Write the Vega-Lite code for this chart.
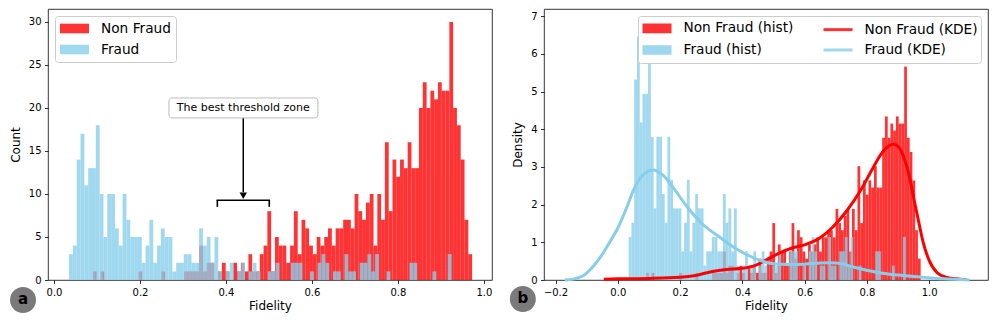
{
"$schema": "https://vega.github.io/schema/vega-lite/v6.json",
"padding": {"left": 8, "top": 8, "right": 5, "bottom": 0},
"background": "white",
"config": {
  "font": "DejaVu Sans",
  "view": {"stroke": "black", "strokeWidth": 0.8},
  "axis": {"labelFont": "DejaVu Sans", "labelFontSize": 10, "labelColor": "black", "titleFont": "DejaVu Sans", "titleFontSize": 12, "titleFontWeight": "normal", "titleColor": "black", "tickColor": "black", "tickSize": 3.5, "tickWidth": 0.8, "domain": false, "grid": false, "labelPadding": 3.5, "labelFlush": false},
  "axisX": {"titlePadding": 3},
  "axisY": {"titlePadding": 6},
  "legend": {"labelFont": "DejaVu Sans", "labelFontSize": 13.7, "labelColor": "black"}
},
"resolve": {"scale": {"color": "independent", "x": "independent", "y": "independent", "shape": "independent"}, "legend": {"color": "independent", "shape": "independent"}},
"spacing": 16,
"datasets": {
"h": [
{"g":"Non Fraud","s":"Non Fraud (hist)","x0":0.0907,"x1":0.0995,"c":1,"d":0.189},
{"g":"Non Fraud","s":"Non Fraud (hist)","x0":0.1083,"x1":0.1171,"c":1,"d":0.189},
{"g":"Non Fraud","s":"Non Fraud (hist)","x0":0.1965,"x1":0.2053,"c":1,"d":0.189},
{"g":"Non Fraud","s":"Non Fraud (hist)","x0":0.2495,"x1":0.2583,"c":1,"d":0.189},
{"g":"Non Fraud","s":"Non Fraud (hist)","x0":0.3024,"x1":0.3112,"c":1,"d":0.189},
{"g":"Non Fraud","s":"Non Fraud (hist)","x0":0.3112,"x1":0.3200,"c":1,"d":0.189},
{"g":"Non Fraud","s":"Non Fraud (hist)","x0":0.3200,"x1":0.3288,"c":1,"d":0.189},
{"g":"Non Fraud","s":"Non Fraud (hist)","x0":0.3288,"x1":0.3377,"c":1,"d":0.189},
{"g":"Non Fraud","s":"Non Fraud (hist)","x0":0.3377,"x1":0.3465,"c":4,"d":0.755},
{"g":"Non Fraud","s":"Non Fraud (hist)","x0":0.3465,"x1":0.3553,"c":1,"d":0.189},
{"g":"Non Fraud","s":"Non Fraud (hist)","x0":0.3553,"x1":0.3641,"c":2,"d":0.377},
{"g":"Non Fraud","s":"Non Fraud (hist)","x0":0.3641,"x1":0.3729,"c":2,"d":0.377},
{"g":"Non Fraud","s":"Non Fraud (hist)","x0":0.3818,"x1":0.3906,"c":1,"d":0.189},
{"g":"Non Fraud","s":"Non Fraud (hist)","x0":0.3906,"x1":0.3994,"c":2,"d":0.377},
{"g":"Non Fraud","s":"Non Fraud (hist)","x0":0.3994,"x1":0.4082,"c":1,"d":0.189},
{"g":"Non Fraud","s":"Non Fraud (hist)","x0":0.4170,"x1":0.4259,"c":2,"d":0.377},
{"g":"Non Fraud","s":"Non Fraud (hist)","x0":0.4259,"x1":0.4347,"c":1,"d":0.189},
{"g":"Non Fraud","s":"Non Fraud (hist)","x0":0.4347,"x1":0.4435,"c":2,"d":0.377},
{"g":"Non Fraud","s":"Non Fraud (hist)","x0":0.4435,"x1":0.4523,"c":1,"d":0.189},
{"g":"Non Fraud","s":"Non Fraud (hist)","x0":0.4523,"x1":0.4611,"c":3,"d":0.566},
{"g":"Non Fraud","s":"Non Fraud (hist)","x0":0.4611,"x1":0.4699,"c":1,"d":0.189},
{"g":"Non Fraud","s":"Non Fraud (hist)","x0":0.4699,"x1":0.4788,"c":1,"d":0.189},
{"g":"Non Fraud","s":"Non Fraud (hist)","x0":0.4788,"x1":0.4876,"c":3,"d":0.566},
{"g":"Non Fraud","s":"Non Fraud (hist)","x0":0.4876,"x1":0.4964,"c":4,"d":0.755},
{"g":"Non Fraud","s":"Non Fraud (hist)","x0":0.4964,"x1":0.5052,"c":8,"d":1.51},
{"g":"Non Fraud","s":"Non Fraud (hist)","x0":0.5052,"x1":0.5140,"c":1,"d":0.189},
{"g":"Non Fraud","s":"Non Fraud (hist)","x0":0.5140,"x1":0.5229,"c":5,"d":0.944},
{"g":"Non Fraud","s":"Non Fraud (hist)","x0":0.5229,"x1":0.5317,"c":4,"d":0.755},
{"g":"Non Fraud","s":"Non Fraud (hist)","x0":0.5317,"x1":0.5405,"c":4,"d":0.755},
{"g":"Non Fraud","s":"Non Fraud (hist)","x0":0.5405,"x1":0.5493,"c":2,"d":0.377},
{"g":"Non Fraud","s":"Non Fraud (hist)","x0":0.5493,"x1":0.5581,"c":4,"d":0.755},
{"g":"Non Fraud","s":"Non Fraud (hist)","x0":0.5581,"x1":0.5670,"c":8,"d":1.51},
{"g":"Non Fraud","s":"Non Fraud (hist)","x0":0.5670,"x1":0.5758,"c":3,"d":0.566},
{"g":"Non Fraud","s":"Non Fraud (hist)","x0":0.5758,"x1":0.5846,"c":7,"d":1.321},
{"g":"Non Fraud","s":"Non Fraud (hist)","x0":0.5846,"x1":0.5934,"c":6,"d":1.132},
{"g":"Non Fraud","s":"Non Fraud (hist)","x0":0.5934,"x1":0.6023,"c":4,"d":0.755},
{"g":"Non Fraud","s":"Non Fraud (hist)","x0":0.6023,"x1":0.6111,"c":3,"d":0.566},
{"g":"Non Fraud","s":"Non Fraud (hist)","x0":0.6111,"x1":0.6199,"c":5,"d":0.944},
{"g":"Non Fraud","s":"Non Fraud (hist)","x0":0.6199,"x1":0.6287,"c":4,"d":0.755},
{"g":"Non Fraud","s":"Non Fraud (hist)","x0":0.6287,"x1":0.6375,"c":5,"d":0.944},
{"g":"Non Fraud","s":"Non Fraud (hist)","x0":0.6375,"x1":0.6464,"c":6,"d":1.132},
{"g":"Non Fraud","s":"Non Fraud (hist)","x0":0.6464,"x1":0.6552,"c":4,"d":0.755},
{"g":"Non Fraud","s":"Non Fraud (hist)","x0":0.6552,"x1":0.6640,"c":6,"d":1.132},
{"g":"Non Fraud","s":"Non Fraud (hist)","x0":0.6640,"x1":0.6728,"c":6,"d":1.132},
{"g":"Non Fraud","s":"Non Fraud (hist)","x0":0.6728,"x1":0.6816,"c":7,"d":1.321},
{"g":"Non Fraud","s":"Non Fraud (hist)","x0":0.6816,"x1":0.6905,"c":7,"d":1.321},
{"g":"Non Fraud","s":"Non Fraud (hist)","x0":0.6905,"x1":0.6993,"c":6,"d":1.132},
{"g":"Non Fraud","s":"Non Fraud (hist)","x0":0.6993,"x1":0.7081,"c":10,"d":1.887},
{"g":"Non Fraud","s":"Non Fraud (hist)","x0":0.7081,"x1":0.7169,"c":8,"d":1.51},
{"g":"Non Fraud","s":"Non Fraud (hist)","x0":0.7169,"x1":0.7257,"c":7,"d":1.321},
{"g":"Non Fraud","s":"Non Fraud (hist)","x0":0.7257,"x1":0.7346,"c":9,"d":1.698},
{"g":"Non Fraud","s":"Non Fraud (hist)","x0":0.7346,"x1":0.7434,"c":10,"d":1.887},
{"g":"Non Fraud","s":"Non Fraud (hist)","x0":0.7434,"x1":0.7522,"c":4,"d":0.755},
{"g":"Non Fraud","s":"Non Fraud (hist)","x0":0.7522,"x1":0.7610,"c":10,"d":1.887},
{"g":"Non Fraud","s":"Non Fraud (hist)","x0":0.7610,"x1":0.7698,"c":7,"d":1.321},
{"g":"Non Fraud","s":"Non Fraud (hist)","x0":0.7698,"x1":0.7787,"c":16,"d":3.019},
{"g":"Non Fraud","s":"Non Fraud (hist)","x0":0.7787,"x1":0.7875,"c":8,"d":1.51},
{"g":"Non Fraud","s":"Non Fraud (hist)","x0":0.7875,"x1":0.7963,"c":14,"d":2.642},
{"g":"Non Fraud","s":"Non Fraud (hist)","x0":0.7963,"x1":0.8051,"c":12,"d":2.264},
{"g":"Non Fraud","s":"Non Fraud (hist)","x0":0.8051,"x1":0.8139,"c":14,"d":2.642},
{"g":"Non Fraud","s":"Non Fraud (hist)","x0":0.8139,"x1":0.8228,"c":13,"d":2.453},
{"g":"Non Fraud","s":"Non Fraud (hist)","x0":0.8228,"x1":0.8316,"c":16,"d":3.019},
{"g":"Non Fraud","s":"Non Fraud (hist)","x0":0.8316,"x1":0.8404,"c":13,"d":2.453},
{"g":"Non Fraud","s":"Non Fraud (hist)","x0":0.8404,"x1":0.8492,"c":13,"d":2.453},
{"g":"Non Fraud","s":"Non Fraud (hist)","x0":0.8492,"x1":0.8580,"c":20,"d":3.774},
{"g":"Non Fraud","s":"Non Fraud (hist)","x0":0.8580,"x1":0.8669,"c":23,"d":4.34},
{"g":"Non Fraud","s":"Non Fraud (hist)","x0":0.8669,"x1":0.8757,"c":20,"d":3.774},
{"g":"Non Fraud","s":"Non Fraud (hist)","x0":0.8757,"x1":0.8845,"c":22,"d":4.151},
{"g":"Non Fraud","s":"Non Fraud (hist)","x0":0.8845,"x1":0.8933,"c":21,"d":3.963},
{"g":"Non Fraud","s":"Non Fraud (hist)","x0":0.8933,"x1":0.9021,"c":23,"d":4.34},
{"g":"Non Fraud","s":"Non Fraud (hist)","x0":0.9021,"x1":0.9110,"c":22,"d":4.151},
{"g":"Non Fraud","s":"Non Fraud (hist)","x0":0.9110,"x1":0.9198,"c":22,"d":4.151},
{"g":"Non Fraud","s":"Non Fraud (hist)","x0":0.9198,"x1":0.9286,"c":30,"d":5.661},
{"g":"Non Fraud","s":"Non Fraud (hist)","x0":0.9286,"x1":0.9374,"c":20,"d":3.774},
{"g":"Non Fraud","s":"Non Fraud (hist)","x0":0.9374,"x1":0.9462,"c":18,"d":3.397},
{"g":"Non Fraud","s":"Non Fraud (hist)","x0":0.9462,"x1":0.9551,"c":14,"d":2.642},
{"g":"Non Fraud","s":"Non Fraud (hist)","x0":0.9551,"x1":0.9639,"c":7,"d":1.321},
{"g":"Non Fraud","s":"Non Fraud (hist)","x0":0.9639,"x1":0.9727,"c":3,"d":0.566},
{"g":"Fraud","s":"Fraud (hist)","x0":0.0350,"x1":0.0439,"c":3,"d":1.14},
{"g":"Fraud","s":"Fraud (hist)","x0":0.0439,"x1":0.0528,"c":4,"d":1.52},
{"g":"Fraud","s":"Fraud (hist)","x0":0.0528,"x1":0.0617,"c":14,"d":5.32},
{"g":"Fraud","s":"Fraud (hist)","x0":0.0617,"x1":0.0706,"c":17,"d":6.46},
{"g":"Fraud","s":"Fraud (hist)","x0":0.0706,"x1":0.0795,"c":11,"d":4.18},
{"g":"Fraud","s":"Fraud (hist)","x0":0.0795,"x1":0.0884,"c":13,"d":4.94},
{"g":"Fraud","s":"Fraud (hist)","x0":0.0884,"x1":0.0973,"c":13,"d":4.94},
{"g":"Fraud","s":"Fraud (hist)","x0":0.0973,"x1":0.1062,"c":18,"d":6.84},
{"g":"Fraud","s":"Fraud (hist)","x0":0.1062,"x1":0.1151,"c":10,"d":3.8},
{"g":"Fraud","s":"Fraud (hist)","x0":0.1151,"x1":0.1240,"c":5,"d":1.9},
{"g":"Fraud","s":"Fraud (hist)","x0":0.1240,"x1":0.1329,"c":10,"d":3.8},
{"g":"Fraud","s":"Fraud (hist)","x0":0.1329,"x1":0.1418,"c":10,"d":3.8},
{"g":"Fraud","s":"Fraud (hist)","x0":0.1418,"x1":0.1507,"c":6,"d":2.28},
{"g":"Fraud","s":"Fraud (hist)","x0":0.1507,"x1":0.1596,"c":4,"d":1.52},
{"g":"Fraud","s":"Fraud (hist)","x0":0.1596,"x1":0.1685,"c":10,"d":3.8},
{"g":"Fraud","s":"Fraud (hist)","x0":0.1685,"x1":0.1774,"c":7,"d":2.66},
{"g":"Fraud","s":"Fraud (hist)","x0":0.1774,"x1":0.1863,"c":5,"d":1.9},
{"g":"Fraud","s":"Fraud (hist)","x0":0.1863,"x1":0.1952,"c":5,"d":1.9},
{"g":"Fraud","s":"Fraud (hist)","x0":0.1952,"x1":0.2041,"c":5,"d":1.9},
{"g":"Fraud","s":"Fraud (hist)","x0":0.2041,"x1":0.2130,"c":2,"d":0.76},
{"g":"Fraud","s":"Fraud (hist)","x0":0.2130,"x1":0.2219,"c":4,"d":1.52},
{"g":"Fraud","s":"Fraud (hist)","x0":0.2219,"x1":0.2308,"c":7,"d":2.66},
{"g":"Fraud","s":"Fraud (hist)","x0":0.2308,"x1":0.2397,"c":2,"d":0.76},
{"g":"Fraud","s":"Fraud (hist)","x0":0.2397,"x1":0.2486,"c":4,"d":1.52},
{"g":"Fraud","s":"Fraud (hist)","x0":0.2486,"x1":0.2575,"c":6,"d":2.28},
{"g":"Fraud","s":"Fraud (hist)","x0":0.2575,"x1":0.2664,"c":5,"d":1.9},
{"g":"Fraud","s":"Fraud (hist)","x0":0.2664,"x1":0.2753,"c":5,"d":1.9},
{"g":"Fraud","s":"Fraud (hist)","x0":0.2753,"x1":0.2842,"c":1,"d":0.38},
{"g":"Fraud","s":"Fraud (hist)","x0":0.2842,"x1":0.2931,"c":2,"d":0.76},
{"g":"Fraud","s":"Fraud (hist)","x0":0.2931,"x1":0.3020,"c":2,"d":0.76},
{"g":"Fraud","s":"Fraud (hist)","x0":0.3020,"x1":0.3109,"c":3,"d":1.14},
{"g":"Fraud","s":"Fraud (hist)","x0":0.3109,"x1":0.3198,"c":3,"d":1.14},
{"g":"Fraud","s":"Fraud (hist)","x0":0.3198,"x1":0.3287,"c":2,"d":0.76},
{"g":"Fraud","s":"Fraud (hist)","x0":0.3287,"x1":0.3376,"c":2,"d":0.76},
{"g":"Fraud","s":"Fraud (hist)","x0":0.3376,"x1":0.3465,"c":6,"d":2.28},
{"g":"Fraud","s":"Fraud (hist)","x0":0.3465,"x1":0.3554,"c":4,"d":1.52},
{"g":"Fraud","s":"Fraud (hist)","x0":0.3554,"x1":0.3643,"c":5,"d":1.9},
{"g":"Fraud","s":"Fraud (hist)","x0":0.3643,"x1":0.3732,"c":2,"d":0.76},
{"g":"Fraud","s":"Fraud (hist)","x0":0.3732,"x1":0.3821,"c":5,"d":1.9},
{"g":"Fraud","s":"Fraud (hist)","x0":0.3821,"x1":0.3910,"c":1,"d":0.38},
{"g":"Fraud","s":"Fraud (hist)","x0":0.3999,"x1":0.4088,"c":1,"d":0.38},
{"g":"Fraud","s":"Fraud (hist)","x0":0.4088,"x1":0.4177,"c":2,"d":0.76},
{"g":"Fraud","s":"Fraud (hist)","x0":0.4266,"x1":0.4355,"c":1,"d":0.38},
{"g":"Fraud","s":"Fraud (hist)","x0":0.4355,"x1":0.4444,"c":2,"d":0.76},
{"g":"Fraud","s":"Fraud (hist)","x0":0.4533,"x1":0.4622,"c":1,"d":0.38},
{"g":"Fraud","s":"Fraud (hist)","x0":0.4622,"x1":0.4711,"c":2,"d":0.76},
{"g":"Fraud","s":"Fraud (hist)","x0":0.4711,"x1":0.4800,"c":1,"d":0.38},
{"g":"Fraud","s":"Fraud (hist)","x0":0.4978,"x1":0.5067,"c":1,"d":0.38},
{"g":"Fraud","s":"Fraud (hist)","x0":0.5067,"x1":0.5156,"c":1,"d":0.38},
{"g":"Fraud","s":"Fraud (hist)","x0":0.5156,"x1":0.5245,"c":2,"d":0.76},
{"g":"Fraud","s":"Fraud (hist)","x0":0.5512,"x1":0.5601,"c":2,"d":0.76},
{"g":"Fraud","s":"Fraud (hist)","x0":0.5601,"x1":0.5690,"c":2,"d":0.76},
{"g":"Fraud","s":"Fraud (hist)","x0":0.5690,"x1":0.5779,"c":2,"d":0.76},
{"g":"Fraud","s":"Fraud (hist)","x0":0.5957,"x1":0.6046,"c":1,"d":0.38},
{"g":"Fraud","s":"Fraud (hist)","x0":0.6135,"x1":0.6224,"c":2,"d":0.76},
{"g":"Fraud","s":"Fraud (hist)","x0":0.6224,"x1":0.6313,"c":3,"d":1.14},
{"g":"Fraud","s":"Fraud (hist)","x0":0.6313,"x1":0.6402,"c":2,"d":0.76},
{"g":"Fraud","s":"Fraud (hist)","x0":0.6491,"x1":0.6580,"c":1,"d":0.38},
{"g":"Fraud","s":"Fraud (hist)","x0":0.6580,"x1":0.6669,"c":1,"d":0.38},
{"g":"Fraud","s":"Fraud (hist)","x0":0.6758,"x1":0.6847,"c":3,"d":1.14},
{"g":"Fraud","s":"Fraud (hist)","x0":0.6847,"x1":0.6936,"c":1,"d":0.38},
{"g":"Fraud","s":"Fraud (hist)","x0":0.6936,"x1":0.7025,"c":1,"d":0.38},
{"g":"Fraud","s":"Fraud (hist)","x0":0.7114,"x1":0.7203,"c":2,"d":0.76},
{"g":"Fraud","s":"Fraud (hist)","x0":0.7203,"x1":0.7292,"c":2,"d":0.76},
{"g":"Fraud","s":"Fraud (hist)","x0":0.7292,"x1":0.7381,"c":3,"d":1.14},
{"g":"Fraud","s":"Fraud (hist)","x0":0.7381,"x1":0.7470,"c":1,"d":0.38},
{"g":"Fraud","s":"Fraud (hist)","x0":0.7470,"x1":0.7559,"c":3,"d":1.14},
{"g":"Fraud","s":"Fraud (hist)","x0":0.7737,"x1":0.7826,"c":1,"d":0.38},
{"g":"Fraud","s":"Fraud (hist)","x0":0.8271,"x1":0.8360,"c":2,"d":0.76},
{"g":"Fraud","s":"Fraud (hist)","x0":0.8360,"x1":0.8449,"c":2,"d":0.76},
{"g":"Fraud","s":"Fraud (hist)","x0":0.8805,"x1":0.8894,"c":1,"d":0.38},
{"g":"Fraud","s":"Fraud (hist)","x0":0.9161,"x1":0.9250,"c":3,"d":1.14}
],
"k": [
{"s":"Non Fraud (KDE)","x":-0.045,"y":0.02},
{"s":"Non Fraud (KDE)","x":0.0,"y":0.03},
{"s":"Non Fraud (KDE)","x":0.1,"y":0.04},
{"s":"Non Fraud (KDE)","x":0.2,"y":0.07},
{"s":"Non Fraud (KDE)","x":0.25,"y":0.12},
{"s":"Non Fraud (KDE)","x":0.3,"y":0.22},
{"s":"Non Fraud (KDE)","x":0.35,"y":0.28},
{"s":"Non Fraud (KDE)","x":0.4,"y":0.31},
{"s":"Non Fraud (KDE)","x":0.44,"y":0.38},
{"s":"Non Fraud (KDE)","x":0.48,"y":0.55},
{"s":"Non Fraud (KDE)","x":0.52,"y":0.72},
{"s":"Non Fraud (KDE)","x":0.56,"y":0.85},
{"s":"Non Fraud (KDE)","x":0.6,"y":0.93},
{"s":"Non Fraud (KDE)","x":0.65,"y":1.12},
{"s":"Non Fraud (KDE)","x":0.69,"y":1.4},
{"s":"Non Fraud (KDE)","x":0.735,"y":1.83},
{"s":"Non Fraud (KDE)","x":0.78,"y":2.38},
{"s":"Non Fraud (KDE)","x":0.82,"y":2.98},
{"s":"Non Fraud (KDE)","x":0.853,"y":3.42},
{"s":"Non Fraud (KDE)","x":0.885,"y":3.6},
{"s":"Non Fraud (KDE)","x":0.905,"y":3.5},
{"s":"Non Fraud (KDE)","x":0.917,"y":3.29},
{"s":"Non Fraud (KDE)","x":0.935,"y":2.8},
{"s":"Non Fraud (KDE)","x":0.949,"y":2.23},
{"s":"Non Fraud (KDE)","x":0.965,"y":1.6},
{"s":"Non Fraud (KDE)","x":0.981,"y":0.99},
{"s":"Non Fraud (KDE)","x":1.0,"y":0.52},
{"s":"Non Fraud (KDE)","x":1.025,"y":0.2},
{"s":"Non Fraud (KDE)","x":1.057,"y":0.07},
{"s":"Non Fraud (KDE)","x":1.1,"y":0.02},
{"s":"Non Fraud (KDE)","x":1.12,"y":0.01},
{"s":"Fraud (KDE)","x":-0.17,"y":0.0},
{"s":"Fraud (KDE)","x":-0.14,"y":0.03},
{"s":"Fraud (KDE)","x":-0.11,"y":0.12},
{"s":"Fraud (KDE)","x":-0.08,"y":0.35},
{"s":"Fraud (KDE)","x":-0.05,"y":0.68},
{"s":"Fraud (KDE)","x":-0.03,"y":0.95},
{"s":"Fraud (KDE)","x":0.0,"y":1.38},
{"s":"Fraud (KDE)","x":0.03,"y":1.95},
{"s":"Fraud (KDE)","x":0.05,"y":2.38},
{"s":"Fraud (KDE)","x":0.08,"y":2.78},
{"s":"Fraud (KDE)","x":0.113,"y":2.92},
{"s":"Fraud (KDE)","x":0.145,"y":2.78},
{"s":"Fraud (KDE)","x":0.178,"y":2.45},
{"s":"Fraud (KDE)","x":0.22,"y":1.97},
{"s":"Fraud (KDE)","x":0.27,"y":1.5},
{"s":"Fraud (KDE)","x":0.33,"y":1.12},
{"s":"Fraud (KDE)","x":0.38,"y":0.83},
{"s":"Fraud (KDE)","x":0.42,"y":0.65},
{"s":"Fraud (KDE)","x":0.456,"y":0.52},
{"s":"Fraud (KDE)","x":0.5,"y":0.43},
{"s":"Fraud (KDE)","x":0.55,"y":0.41},
{"s":"Fraud (KDE)","x":0.6,"y":0.42},
{"s":"Fraud (KDE)","x":0.65,"y":0.45},
{"s":"Fraud (KDE)","x":0.68,"y":0.46},
{"s":"Fraud (KDE)","x":0.72,"y":0.43},
{"s":"Fraud (KDE)","x":0.75,"y":0.36},
{"s":"Fraud (KDE)","x":0.8,"y":0.26},
{"s":"Fraud (KDE)","x":0.85,"y":0.18},
{"s":"Fraud (KDE)","x":0.9,"y":0.13},
{"s":"Fraud (KDE)","x":0.95,"y":0.09},
{"s":"Fraud (KDE)","x":1.0,"y":0.06},
{"s":"Fraud (KDE)","x":1.05,"y":0.03},
{"s":"Fraud (KDE)","x":1.1,"y":0.01},
{"s":"Fraud (KDE)","x":1.13,"y":0.0}
]
},
"hconcat": [
{
  "width": 444, "height": 271,
  "encoding": {
    "x": {"type": "quantitative", "scale": {"domain": [-0.014, 1.019], "nice": false, "zero": false}, "axis": {"title": "Fidelity", "values": [0, 0.2, 0.4, 0.6, 0.8, 1.0], "format": ".1f"}},
    "y": {"type": "quantitative", "scale": {"domain": [0, 31.5], "nice": false}, "axis": {"title": "Count", "values": [0, 5, 10, 15, 20, 25, 30]}}
  },
  "layer": [
    {"data": {"name": "h"}, "transform": [{"filter": "datum.g == 'Non Fraud'"}],
     "mark": {"type": "bar", "opacity": 0.8},
     "encoding": {"x": {"field": "x0", "type": "quantitative"}, "x2": {"field": "x1"}, "y": {"field": "c", "type": "quantitative", "stack": null}, "y2": {"datum": 0},
       "color": {"field": "g", "type": "nominal", "scale": {"domain": ["Non Fraud", "Fraud"], "range": ["#ff0000", "#87ceeb"]},
         "legend": {"title": null, "orient": "top-left", "offset": 7, "symbolType": "M-1,-0.64H2.87V0.64H-1Z", "symbolSize": 225, "symbolOpacity": 0.8, "symbolStrokeWidth": 0, "labelOffset": 26, "strokeColor": "#cccccc", "fillColor": "white", "cornerRadius": 3, "padding": 5, "rowPadding": 6}}}},
    {"data": {"name": "h"}, "transform": [{"filter": "datum.g == 'Fraud'"}],
     "mark": {"type": "bar", "opacity": 0.8},
     "encoding": {"x": {"field": "x0", "type": "quantitative"}, "x2": {"field": "x1"}, "y": {"field": "c", "type": "quantitative", "stack": null}, "y2": {"datum": 0},
       "color": {"field": "g", "type": "nominal"}}},
    {"data": {"values": [{}]}, "mark": {"type": "rule", "color": "black", "strokeWidth": 1.6, "strokeCap": "square"},
     "encoding": {"x": {"datum": 0.38}, "x2": {"datum": 0.5008}, "y": {"datum": 9.27}}},
    {"data": {"values": [{}]}, "mark": {"type": "rule", "color": "black", "strokeWidth": 1.6},
     "encoding": {"x": {"datum": 0.38}, "y": {"datum": 9.27}, "y2": {"datum": 8.5}}},
    {"data": {"values": [{}]}, "mark": {"type": "rule", "color": "black", "strokeWidth": 1.6},
     "encoding": {"x": {"datum": 0.5008}, "y": {"datum": 9.27}, "y2": {"datum": 8.5}}},
    {"data": {"values": [{}]}, "mark": {"type": "rule", "color": "black", "strokeWidth": 1.5},
     "encoding": {"x": {"datum": 0.4403}, "y": {"datum": 18.84}, "y2": {"datum": 10.2}}},
    {"data": {"values": [{}]}, "mark": {"type": "point", "shape": "triangle-down", "filled": true, "color": "black", "opacity": 1, "size": 55},
     "encoding": {"x": {"datum": 0.4403}, "y": {"datum": 9.8}}},
    {"data": {"values": [{}]}, "mark": {"type": "rect", "fill": "white", "stroke": "#bbbbbb", "strokeWidth": 1, "cornerRadius": 3},
     "encoding": {"x": {"datum": 0.2674}, "x2": {"datum": 0.614}, "y": {"datum": 18.84}, "y2": {"datum": 21.16}}},
    {"data": {"values": [{"t": "The best threshold zone"}]}, "mark": {"type": "text", "fontSize": 11, "font": "DejaVu Sans", "color": "black", "align": "center", "baseline": "middle"},
     "encoding": {"x": {"datum": 0.4403}, "y": {"datum": 20.0}, "text": {"field": "t"}}},
    {"data": {"values": [{}]}, "mark": {"type": "point", "shape": "circle", "filled": true, "color": "#7a7a7a", "opacity": 1, "size": 676},
     "encoding": {"x": {"datum": -0.0721}, "y": {"datum": -2.33}}},
    {"data": {"values": [{"t": "a"}]}, "mark": {"type": "text", "fontSize": 15, "fontWeight": "bold", "font": "DejaVu Sans", "color": "black", "align": "center", "baseline": "middle", "dy": -1},
     "encoding": {"x": {"datum": -0.0721}, "y": {"datum": -2.33}, "text": {"field": "t"}}}
  ]
},
{
  "width": 444, "height": 271,
  "encoding": {
    "x": {"type": "quantitative", "scale": {"domain": [-0.237, 1.189], "nice": false, "zero": false}, "axis": {"title": "Fidelity", "values": [-0.2, 0, 0.2, 0.4, 0.6, 0.8, 1.0], "format": ".1f"}},
    "y": {"type": "quantitative", "scale": {"domain": [0, 7.19], "nice": false}, "axis": {"title": "Density", "values": [0, 1, 2, 3, 4, 5, 6, 7]}}
  },
  "layer": [
    {"data": {"name": "h"}, "transform": [{"filter": "datum.g == 'Non Fraud'"}],
     "mark": {"type": "bar", "opacity": 0.8},
     "encoding": {"x": {"field": "x0", "type": "quantitative"}, "x2": {"field": "x1"}, "y": {"field": "d", "type": "quantitative", "stack": null}, "y2": {"datum": 0},
       "color": {"field": "s", "type": "nominal", "scale": {"domain": ["Non Fraud (hist)", "Fraud (hist)", "Non Fraud (KDE)", "Fraud (KDE)"], "range": ["#ff0000", "#87ceeb", "#ff0000", "#87ceeb"]},
         "legend": {"title": null, "orient": "top-right", "offset": 7, "columns": 2, "columnPadding": 23, "symbolSize": 225, "symbolStrokeWidth": 3, "symbolOpacity": 0.8, "labelOffset": 24.5, "strokeColor": "#cccccc", "fillColor": "white", "cornerRadius": 3, "padding": 3, "rowPadding": 2}}}},
    {"data": {"name": "h"}, "transform": [{"filter": "datum.g == 'Fraud'"}],
     "mark": {"type": "bar", "opacity": 0.8},
     "encoding": {"x": {"field": "x0", "type": "quantitative"}, "x2": {"field": "x1"}, "y": {"field": "d", "type": "quantitative", "stack": null}, "y2": {"datum": 0},
       "color": {"field": "s", "type": "nominal"}}},
    {"data": {"name": "k"}, "transform": [{"filter": "datum.s == 'Non Fraud (KDE)'"}],
     "mark": {"type": "line", "strokeWidth": 3, "interpolate": "monotone"},
     "encoding": {"x": {"field": "x", "type": "quantitative"}, "y": {"field": "y", "type": "quantitative"}, "color": {"field": "s", "type": "nominal"}}},
    {"data": {"name": "k"}, "transform": [{"filter": "datum.s == 'Fraud (KDE)'"}],
     "mark": {"type": "line", "strokeWidth": 3, "interpolate": "monotone"},
     "encoding": {"x": {"field": "x", "type": "quantitative"}, "y": {"field": "y", "type": "quantitative"}, "color": {"field": "s", "type": "nominal"}}},
    {"data": {"name": "k"}, "transform": [{"filter": "false"}],
     "mark": {"type": "point", "filled": true},
     "encoding": {"x": {"field": "x", "type": "quantitative"}, "y": {"field": "y", "type": "quantitative"}, "color": {"field": "s", "type": "nominal"},
       "shape": {"field": "s", "type": "nominal", "scale": {"domain": ["Non Fraud (hist)", "Fraud (hist)", "Non Fraud (KDE)", "Fraud (KDE)"], "range": ["M-0.8,-0.44H2.67V0.44H-0.8Z", "M-0.8,-0.44H2.67V0.44H-0.8Z", "M-1,0H2.87", "M-1,0H2.87"]},
         "legend": {"title": null, "orient": "top-right", "offset": 7, "columns": 2, "columnPadding": 23, "symbolSize": 225, "symbolStrokeWidth": 3, "symbolOpacity": 0.8, "labelOffset": 24.5, "strokeColor": "#cccccc", "fillColor": "white", "cornerRadius": 3, "padding": 3, "rowPadding": 2}}}},
    {"data": {"values": [{}]}, "mark": {"type": "point", "shape": "circle", "filled": true, "color": "#7a7a7a", "opacity": 1, "size": 676},
     "encoding": {"x": {"datum": -0.305}, "y": {"datum": -0.504}}},
    {"data": {"values": [{"t": "b"}]}, "mark": {"type": "text", "fontSize": 15, "fontWeight": "bold", "font": "DejaVu Sans", "color": "black", "align": "center", "baseline": "middle", "dy": -1},
     "encoding": {"x": {"datum": -0.305}, "y": {"datum": -0.504}, "text": {"field": "t"}}}
  ]
}
]
}
